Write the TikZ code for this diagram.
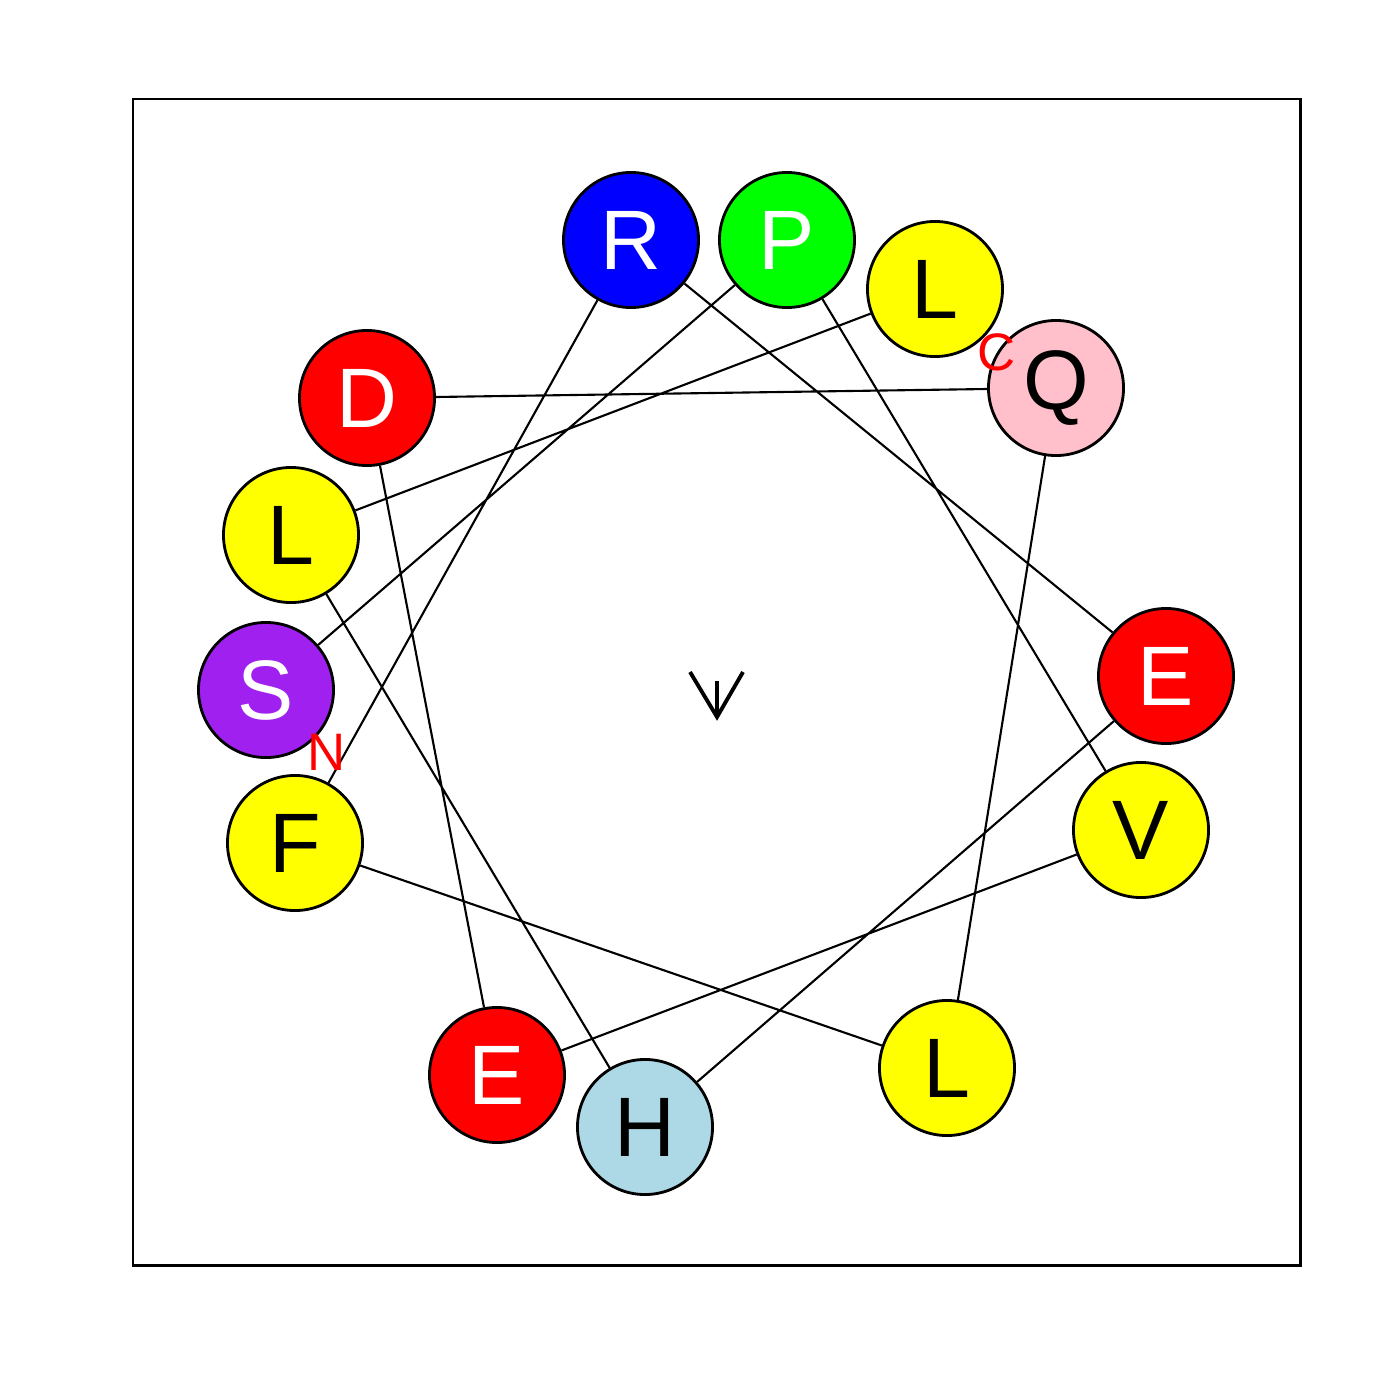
\documentclass[tikz,border=0pt]{standalone}
\usepackage{fontspec}
\setmainfont{Liberation Sans}
\definecolor{rgreen}{HTML}{00FF00}
\definecolor{rpurple}{HTML}{A020F0}
\definecolor{rpink}{HTML}{FFC0CB}
\definecolor{rlightblue}{HTML}{ADD8E6}
\definecolor{ryellow}{HTML}{FFFF00}
\definecolor{rred}{HTML}{FF0000}
\definecolor{rblue}{HTML}{0000FF}

\begin{document}
\begin{tikzpicture}[x=0.01cm,y=-0.01cm,
  res/.style={circle,draw,line width=0.8pt,minimum size=1.35cm,inner sep=0pt,
    font=\fontsize{24}{28}\selectfont},
  link/.style={line width=0.6pt},
  term/.style={text=rred,inner sep=0pt,font=\fontsize{15}{18}\selectfont}]
  \useasboundingbox (0,0) rectangle (1400,1400);
  \draw[line width=0.85pt] (133,99) rectangle (1300,1265);
  % residues around the wheel
  \node[res,fill=rpurple,text=white] (S1) at (266,690) {S};
  \node[res,fill=rgreen,text=white] (P2) at (787,240) {P};
  \node[res,fill=ryellow] (V3) at (1141,830) {V};
  \node[res,fill=rred,text=white] (E4) at (497,1075) {E};
  \node[res,fill=rred,text=white] (D5) at (367,398) {D};
  \node[res,fill=rpink] (Q6) at (1056,388) {Q};
  \node[res,fill=ryellow] (L7) at (947,1068) {L};
  \node[res,fill=ryellow] (F8) at (295,843) {F};
  \node[res,fill=rblue,text=white] (R9) at (631,240) {R};
  \node[res,fill=rred,text=white] (E10) at (1166,676) {E};
  \node[res,fill=rlightblue] (H11) at (645,1127) {H};
  \node[res,fill=ryellow] (L12) at (291,535) {L};
  \node[res,fill=ryellow] (L13) at (935,289) {L};
  % chain
  \draw[link] (S1) -- (P2) -- (V3) -- (E4) -- (D5) -- (Q6) -- (L7) -- (F8)
    -- (R9) -- (E10) -- (H11) -- (L12) -- (L13);
  % termini
  \node[term] (nterm) at (327,752) {N};
  \node[term] (cterm) at (997,352) {C};
  % moment arrow
  \coordinate (m0) at (717,681);
  \coordinate (m1) at (717,717);
  \draw[line width=1.1pt] (m0) -- (m1);
  \draw[line width=1.1pt] (690,672) -- (m1) -- (743,672);
\end{tikzpicture}
\end{document}
